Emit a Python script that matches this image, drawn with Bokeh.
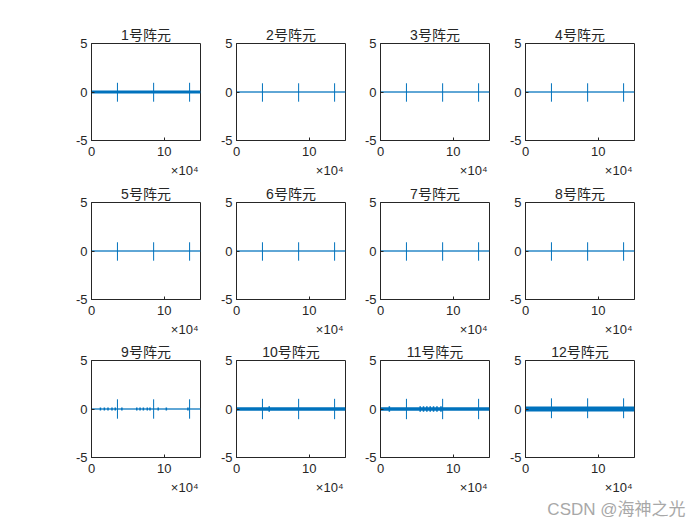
from bokeh.plotting import figure
from bokeh.layouts import column, row
from bokeh.models import FixedTicker, Range1d, Title
from bokeh.embed import file_html
from bokeh.resources import INLINE

# ---------------- data ----------------
panel_titles = ["1号阵元", "2号阵元", "3号阵元", "4号阵元",
                "5号阵元", "6号阵元", "7号阵元", "8号阵元",
                "9号阵元", "10号阵元", "11号阵元", "12号阵元"]
x_limits = [0, 150000]
y_limits = [-5, 5]
x_ticks = [0, 100000]
x_tick_labels = ["0", "10"]
x_exponent_label = "×10⁴"
y_ticks = [-5, 0, 5]
y_tick_labels = ["-5", "0", "5"]
watermark = "CSDN @海神之光"

# positions of the three pulses (samples)
spike_x = [35700, 85500, 135000]
# pulse peak (positive) and trough (negative) per element
spike_up = [0.95, 0.9, 0.9, 0.9, 0.9, 0.9, 0.9, 0.9, 1.0, 1.05, 1.05, 1.1]
spike_down = [-1.0, -1.0, -1.0, -1.0, -1.0, -1.0, -1.0, -1.0, -1.0, -1.05, -1.05, -0.95]
# half-width of the background noise band per element
noise_half = [0.15, 0.02, 0.02, 0.02, 0.02, 0.02, 0.02, 0.02, 0.03, 0.17, 0.17, 0.27]

# small isolated bursts seen on elements 9, 10, 11
burst9_x = [12300, 17700, 22700, 28200, 32700, 41800, 62300, 66800,
            71400, 76800, 80500, 91800, 103000, 132700]
burst10_x = [45000]
burst11_x = [12200, 54600, 59200, 63800, 68400, 73000, 77700, 83200]
burst_half = [0.16, 0.28, 0.28]

bursts = {8: (burst9_x, burst_half[0]), 9: (burst10_x, burst_half[1]),
          10: (burst11_x, burst_half[2])}

# ---------------- styling / layout ----------------
BLUE = "#0072BD"
TXT = "#262626"
FRAME_W, FRAME_H = 109, 97
col_lb = [91, 31, 30, 31]
col_rb = [5, 5, 5, 66]
row_tb = [43, 21, 20]
row_bb = [41, 41, 68]
TICK_FONT = "Liberation Sans"
TITLE_FONT = "Liberation Sans, Noto Sans CJK SC"


def make_panel(i):
    r, c = divmod(i, 4)
    lb, rb, tb, bb = col_lb[c], col_rb[c], row_tb[r], row_bb[r]
    p = figure(width=lb + FRAME_W + rb, height=tb + FRAME_H + bb,
               x_range=Range1d(*x_limits), y_range=Range1d(*y_limits),
               output_backend="svg", toolbar_location=None, title=None,
               min_border_left=lb, min_border_right=rb,
               min_border_top=tb, min_border_bottom=bb)
    p.background_fill_color = "white"
    p.border_fill_color = "white"
    p.outline_line_color = TXT
    p.outline_line_alpha = 1
    p.outline_line_width = 1
    p.xgrid.visible = False
    p.ygrid.visible = False

    p.xaxis.ticker = FixedTicker(ticks=x_ticks)
    p.xaxis.major_label_overrides = {t: l for t, l in zip(x_ticks, x_tick_labels)}
    p.yaxis.ticker = FixedTicker(ticks=y_ticks)
    p.yaxis.major_label_overrides = {t: l for t, l in zip(y_ticks, y_tick_labels)}
    for ax in (p.xaxis, p.yaxis):
        ax.axis_line_color = TXT
        ax.major_tick_line_color = TXT
        ax.major_tick_in = 3
        ax.major_tick_out = 0
        ax.minor_tick_line_color = None
        ax.major_label_text_font = TICK_FONT
        ax.major_label_text_font_size = "13px"
        ax.major_label_text_color = TXT
    p.xaxis.major_label_standoff = 6
    p.yaxis.major_label_standoff = 4

    # noise band and base trace
    n = noise_half[i]
    p.quad(left=[x_limits[0]], right=[x_limits[1]], bottom=[-n], top=[n],
           fill_color=BLUE, line_color=None)
    p.line(x=x_limits, y=[0, 0], line_color=BLUE, line_width=1)

    # bursts
    if i in bursts:
        bx, bh = bursts[i]
        p.segment(x0=bx, y0=[-bh] * len(bx), x1=bx, y1=[bh] * len(bx),
                  line_color=BLUE, line_width=1.5)

    # pulses
    p.segment(x0=spike_x, y0=[spike_down[i]] * 3, x1=spike_x, y1=[spike_up[i]] * 3,
              line_color=BLUE, line_width=1)

    # title above the frame
    p.add_layout(Title(text=panel_titles[i], align="center", standoff=1,
                       text_font=TITLE_FONT, text_font_size="14px",
                       text_font_style="normal", text_color=TXT), "above")
    # x10^4 exponent under the axis, right aligned
    p.add_layout(Title(text=x_exponent_label, align="right", offset=2, standoff=4,
                       text_font=TICK_FONT, text_font_size="13px",
                       text_font_style="normal", text_color=TXT), "below")
    if i == 11:
        p.add_layout(Title(text=watermark, align="right", offset=-51, standoff=2,
                           text_font=TITLE_FONT, text_font_size="17px",
                           text_font_style="normal", text_color="#a8a8a8"), "below")
    return p


panels = [make_panel(i) for i in range(12)]
layout = column(row(*panels[0:4]), row(*panels[4:8]), row(*panels[8:12]))

open("out.html", "w").write(file_html(layout, INLINE))
